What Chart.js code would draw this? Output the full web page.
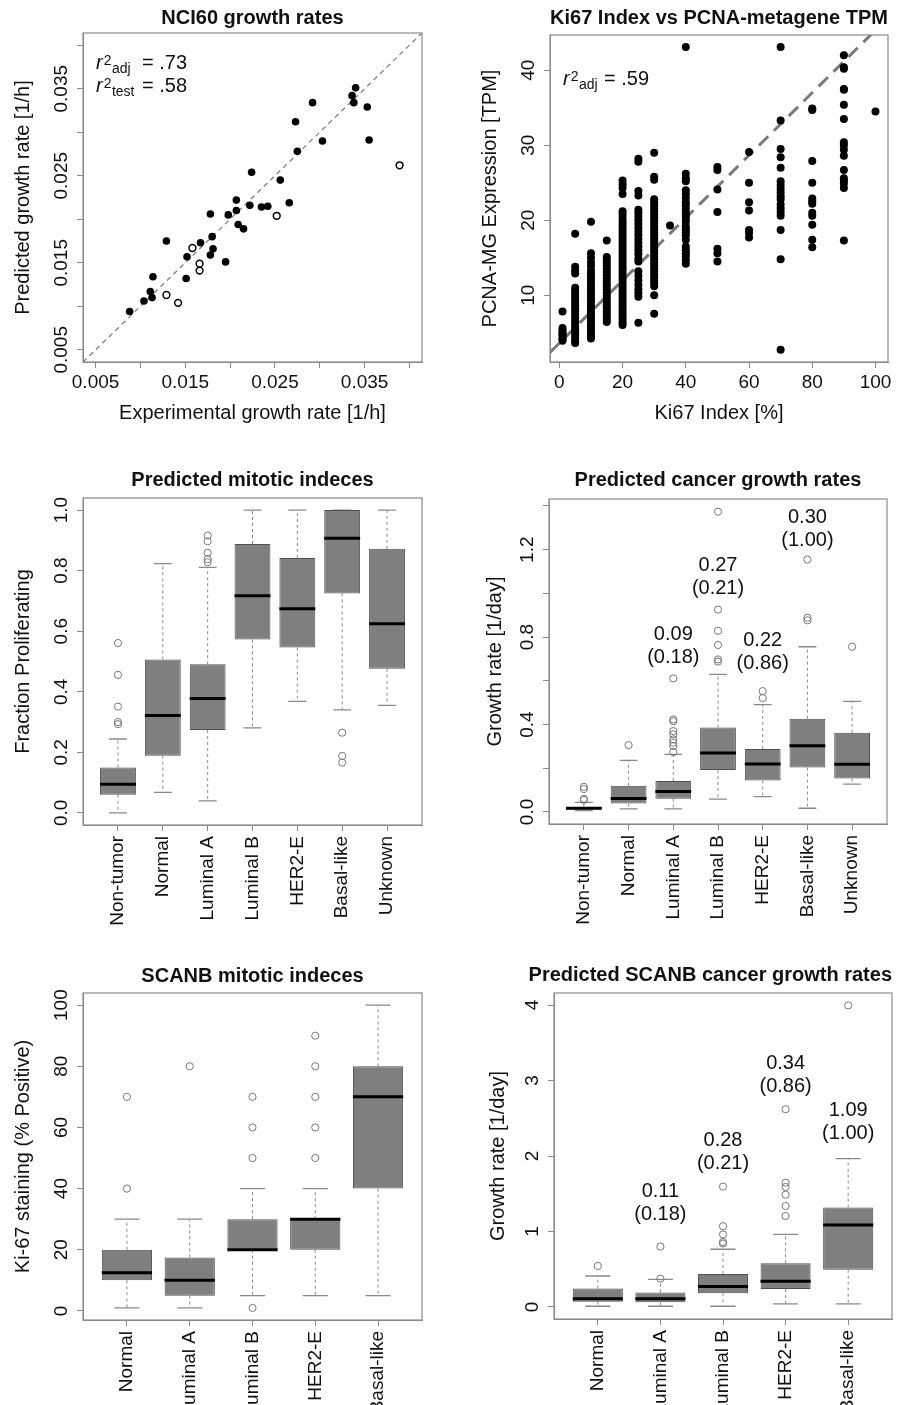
<!DOCTYPE html>
<html><head><meta charset="utf-8">
<script src="https://cdn.jsdelivr.net/npm/chart.js@4.4.1/dist/chart.umd.min.js"></script>
<style>
html,body{margin:0;padding:0;background:#fff;}
body{width:911px;height:1405px;position:relative;overflow:hidden;}
canvas{position:absolute;}
</style></head><body>
<canvas id="c1" width="455" height="460" style="left:0;top:0"></canvas>
<canvas id="c2" width="456" height="460" style="left:455px;top:0"></canvas>
<canvas id="c3" width="455" height="500" style="left:0;top:460px"></canvas>
<canvas id="c4" width="456" height="500" style="left:455px;top:460px"></canvas>
<canvas id="c5" width="455" height="445" style="left:0;top:960px"></canvas>
<canvas id="c6" width="456" height="445" style="left:455px;top:960px"></canvas>
<script>
// ================= DATA =================
// Panel 1: NCI60 growth rates
const nciFilledX = [0.0088,0.0104,0.0111,0.0113,0.0114,0.0129,0.0151,0.0152,0.0167,0.0178,0.0178,0.0180,0.0181,0.0195,0.0198,0.0207,0.0207,0.0209,0.0215,0.0222,0.0224,0.0235,0.0242,0.0256,0.0266,0.0273,0.0275,0.0292,0.0303,0.0336,0.0338,0.0340,0.0353,0.0355];
const nciFilledY = [0.0094,0.0106,0.0117,0.0110,0.0134,0.0175,0.0132,0.0157,0.0173,0.0206,0.0159,0.0180,0.0166,0.0151,0.0205,0.0222,0.0210,0.0194,0.0189,0.0216,0.0254,0.0214,0.0215,0.0245,0.0219,0.0312,0.0278,0.0334,0.0290,0.0342,0.0334,0.0351,0.0329,0.0291];
const nciOpenX = [0.0129,0.0142,0.0158,0.0166,0.0166,0.0252,0.0389];
const nciOpenY = [0.0113,0.0104,0.0167,0.0149,0.0141,0.0204,0.0262];
const nciRange = [0.0036, 0.0414];
const nciTicks = [0.005,0.010,0.015,0.020,0.025,0.030,0.035,0.040];
const nciTickLabels = ['0.005','','0.015','','0.025','','0.035',''];

// Panel 2: Ki67 vs PCNA-metagene TPM
const ki67Levels = [1,5,10,15,20,25,30,35,40,50,60,70,80,90,100];
const pcnaByLevel = [
  [7.8,5.6,5.3,5.0,4.8,4.6,4.3,4.1,3.9],
  [18.2,13.8,13.3,12.9,11.0,10.6,10.2,9.8,9.4,9.0,8.6,8.2,7.8,7.4,7.0,6.6,6.2,5.8,5.4,5.0,4.6,4.2,3.8,3.6],
  [19.8,15.6,15.0,14.4,13.9,13.3,12.9,12.5,12.1,11.7,11.3,10.9,10.5,10.1,9.7,9.3,8.9,8.5,8.1,7.7,7.3,6.9,6.5,6.1,5.7,5.3,4.9,4.5,4.2],
  [17.3,15.1,14.7,14.3,13.9,13.5,13.1,12.7,12.3,11.9,11.5,11.1,10.7,10.3,9.9,9.5,9.1,8.7,8.3,7.9,7.5,7.1,6.7,6.4],
  [25.3,24.8,24.3,23.5,21.2,20.8,20.3,19.9,19.5,19.1,18.7,18.3,17.9,17.5,17.1,16.7,16.3,15.9,15.5,15.1,14.7,14.3,13.9,13.5,13.1,12.7,12.3,11.9,11.5,11.1,10.7,10.3,9.9,9.5,9.1,8.7,8.3,7.9,7.5,7.1,6.7,6.3,6.0],
  [28.2,27.8,23.9,23.3,21.4,21.0,20.5,20.0,19.5,19.0,18.5,18.0,17.5,17.0,16.5,16.0,15.5,14.9,14.5,13.2,12.6,12.0,11.4,10.8,10.3,9.8,6.3],
  [29.0,25.8,25.4,22.8,22.4,22.0,21.6,21.2,20.8,20.4,20.0,19.6,19.2,18.8,18.4,18.0,17.6,17.2,16.8,16.4,16.0,15.6,15.2,14.8,14.4,14.0,13.6,13.2,12.8,12.4,12.0,11.6,11.2,10.0,7.5],
  [19.3],
  [43.1,26.2,25.6,25.2,24.0,23.5,23.0,22.4,22.0,21.5,21.0,20.6,20.2,19.8,19.2,18.8,18.4,18.0,17.4,16.5,16.0,15.6,15.2,14.7,14.2],
  [27.1,26.7,24.1,21.1,16.2,15.6,14.5],
  [29.1,25.0,22.4,21.3,18.7,18.3,17.7],
  [43.1,33.3,29.5,28.4,27.0,25.2,24.7,24.2,23.7,23.2,22.8,22.1,21.6,21.1,20.6,18.7,14.8,2.7],
  [34.9,34.7,27.9,25.0,22.9,22.5,22.2,21.0,20.6,19.4,17.4,16.4],
  [42.0,40.4,40.2,37.5,37.4,35.4,33.5,30.4,30.0,29.4,28.6,26.7,25.6,25.3,24.9,24.3,17.3],
  [34.5]
];
const ki67XRange = [-2.96, 103.96];
const ki67YRange = [1.08, 44.7];
const ki67XTicks = [0,20,40,60,80,100];
const ki67XLabels = ['0','20','40','60','80','100'];
const ki67YTicks = [10,20,30,40];
const ki67YLabels = ['10','20','30','40'];
const ki67FitIntercept = 3.6;
const ki67FitSlope = 0.4175;

// Panel 3: Predicted mitotic indeces
const subtypes7 = ['Non-tumor','Normal','Luminal A','Luminal B','HER2-E','Basal-like','Unknown'];
const mitoLo  = [0.000,0.068,0.040,0.281,0.368,0.340,0.355];
const mitoQ1  = [0.060,0.189,0.274,0.573,0.546,0.725,0.476];
const mitoMed = [0.095,0.322,0.378,0.717,0.674,0.907,0.625];
const mitoQ3  = [0.150,0.507,0.491,0.888,0.842,1.000,0.872];
const mitoHi  = [0.244,0.823,0.811,1.000,1.000,1.000,1.000];
const mitoOut = [[0.293,0.300,0.351,0.456,0.561],[],[0.828,0.838,0.859,0.897,0.916],[],[],[0.265,0.188,0.166],[]];
const mitoRange = [-0.04, 1.04];
const mitoTicks = [0,0.2,0.4,0.6,0.8,1.0];
const mitoTickLabels = ['0.0','0.2','0.4','0.6','0.8','1.0'];

// Panel 4: Predicted cancer growth rates
const growLo  = [0.006,0.014,0.014,0.059,0.070,0.017,0.127];
const growQ1  = [0.011,0.039,0.061,0.192,0.144,0.203,0.153];
const growMed = [0.017,0.062,0.094,0.270,0.220,0.303,0.218];
const growQ3  = [0.023,0.120,0.142,0.386,0.288,0.427,0.362];
const growHi  = [0.044,0.236,0.264,0.630,0.491,0.756,0.506];
const growOut = [[0.055,0.060,0.105,0.115],[0.306],[0.274,0.302,0.317,0.332,0.355,0.370,0.415,0.423,0.611],[0.688,0.698,0.764,0.829,0.926,1.374],[0.521,0.553],[0.877,0.889,1.155],[0.756]];
const growRange = [-0.055, 1.432];
const growTicks = [0,0.2,0.4,0.6,0.8,1.0,1.2,1.4];
const growTickLabels = ['0.0','','0.4','','0.8','','1.2',''];
const growAnnCat = [3,4,5,6];
const growAnnMedian = ['0.09','0.27','0.22','0.30'];
const growAnnP = ['(0.18)','(0.21)','(0.86)','(1.00)'];
const growAnnY = [0.812,1.127,0.786,1.347];

// Panel 5: SCANB mitotic indeces
const subtypes5 = ['Normal','Luminal A','Luminal B','HER2-E','Basal-like'];
const scanLo  = [1,1,5,5,5];
const scanQ1  = [10,5,20,20,40];
const scanMed = [12.5,10,20,30,70];
const scanQ3  = [20,17.5,30,30,80];
const scanHi  = [30,30,40,40,100];
const scanOut = [[40,70],[80],[50,60,70,1],[50,60,70,80,90],[]];
const scanRange = [-2.96, 103.96];
const scanTicks = [0,20,40,60,80,100];
const scanTickLabels = ['0','20','40','60','80','100'];

// Panel 6: Predicted SCANB cancer growth rates
const sgLo  = [0.009,0.009,0.009,0.040,0.040];
const sgQ1  = [0.070,0.062,0.181,0.238,0.494];
const sgMed = [0.110,0.110,0.270,0.340,1.086];
const sgQ3  = [0.243,0.190,0.437,0.578,1.316];
const sgHi  = [0.410,0.366,0.764,0.962,1.965];
const sgOut = [[0.543],[0.375,0.800],[0.840,0.860,0.960,1.070,1.594],[1.205,1.338,1.488,1.590,1.647,2.620],[3.996]];
const sgRange = [-0.16, 4.16];
const sgTicks = [0,1,2,3,4];
const sgTickLabels = ['0','1','2','3','4'];
const sgAnnCat = [2,3,4,5];
const sgAnnMedian = ['0.11','0.28','0.34','1.09'];
const sgAnnP = ['(0.18)','(0.21)','(0.86)','(1.00)'];
const sgAnnY = [1.536,2.199,3.223,2.605];

// ================= STYLE / LAYOUT =================
const FONT = "'Liberation Sans', Arial, Helvetica, sans-serif";
const INK = '#111';
const AXIS = '#8a8a8a';
const TICK_SIZE = 19, LABEL_SIZE = 20;
const BOX_HALF = 0.4, CAP_HALF = 0.2;
Chart.defaults.font.family = FONT;
Chart.defaults.color = INK;

const L1 = {W:455,H:460,plot:[83,422,33,362],titleTop:6.3,yTitlePad:11.3,xTitlePad:35};
const L2 = {W:456,H:460,plot:[95,433,35,362],titleTop:6.3,yTitlePad:23,xTitlePad:35};
const L3 = {W:455,H:500,plot:[83,422,38,365],titleTop:8.7,yTitlePad:11.3};
const L4 = {W:456,H:500,plot:[94,432,39,364],titleTop:8,yTitlePad:28};
const L5 = {W:455,H:445,plot:[83,422,33,360],titleTop:4,yTitlePad:11.3};
const L6 = {W:456,H:445,plot:[99,437,33,359],titleTop:3,yTitlePad:31.3,titleWide:true};

const mctx = document.createElement('canvas').getContext('2d');
function widest(labels, size) {
  mctx.font = 'normal ' + size + 'px ' + FONT;
  return Math.max(0, ...labels.map(s => mctx.measureText(s).width));
}

const framePlugin = {
  id: 'frame',
  afterDraw(chart) {
    const {ctx, chartArea: a} = chart;
    ctx.save();
    ctx.strokeStyle = AXIS; ctx.lineWidth = 1.2;
    ctx.strokeRect(a.left, a.top, a.right - a.left, a.bottom - a.top);
    ctx.restore();
  }
};
const annPlugin = {
  id: 'boxAnn',
  afterDatasetsDraw(chart, args, opts) {
    if (!opts || !opts.cats) return;
    const {ctx, scales: {x, y}} = chart;
    ctx.save();
    ctx.font = 'normal ' + LABEL_SIZE + 'px ' + FONT;
    ctx.fillStyle = INK; ctx.textAlign = 'center'; ctx.textBaseline = 'middle';
    opts.cats.forEach((c, i) => {
      const px = x.getPixelForValue(c), py = y.getPixelForValue(opts.ys[i]);
      ctx.fillText(opts.top[i], px, py);
      ctx.fillText(opts.bottom[i], px, py + opts.gap);
    });
    ctx.restore();
  }
};
const r2Plugin = {
  id: 'r2',
  afterDraw(chart, args, opts) {
    if (!opts || !opts.lines) return;
    const ctx = chart.ctx;
    ctx.save();
    ctx.fillStyle = INK; ctx.textAlign = 'left'; ctx.textBaseline = 'alphabetic';
    opts.lines.forEach(l => {
      ctx.font = 'italic 20px ' + FONT;
      ctx.fillText('r', l.x, l.y);
      let cx = l.x + ctx.measureText('r').width + 1;
      ctx.font = 'normal 14px ' + FONT;
      ctx.fillText('2', cx, l.y - 4.5);
      cx += ctx.measureText('2').width + 0.5;
      ctx.fillText(l.sub, cx, l.y + 4);
      ctx.font = 'normal 20px ' + FONT;
      ctx.fillText(l.eq, l.eqX, l.y);
    });
    ctx.restore();
  }
};

function gridOpts() {
  return {drawOnChartArea:false, drawTicks:true, tickLength:6, color:AXIS, lineWidth:1, offset:false};
}
function yAxis(L, range, ticks, labels, titleText) {
  const w = widest(labels, TICK_SIZE);
  return {
    type:'linear', position:'left', min:range[0], max:range[1], bounds:'data',
    afterBuildTicks: s => { s.ticks = ticks.map(v => ({value:v})); },
    afterFit: s => { s.width = L.plot[0]; },
    ticks: {autoSkip:false, minRotation:90, maxRotation:90, crossAlign:'center', padding: 21.5 - 6 - w/2,
            color:INK, font:{size:TICK_SIZE}, callback:(v, i) => labels[i]},
    grid: gridOpts(),
    border: {display:true, color:AXIS, width:1},
    title: {display:true, text:titleText, color:INK, font:{size:LABEL_SIZE}, padding:{top:L.yTitlePad, bottom:0}}
  };
}
function xAxisNum(L, range, ticks, labels, titleText) {
  return {
    type:'linear', position:'bottom', min:range[0], max:range[1], bounds:'data', offset:false,
    afterBuildTicks: s => { s.ticks = ticks.map(v => ({value:v})); },
    afterFit: s => { s.height = L.H - L.plot[3]; },
    ticks: {autoSkip:false, minRotation:0, maxRotation:0, padding:3.3, color:INK, font:{size:TICK_SIZE}, callback:(v, i) => labels[i]},
    grid: gridOpts(),
    border: {display:true, color:AXIS, width:1},
    title: {display:true, text:titleText, color:INK, font:{size:LABEL_SIZE}, padding:{top:0, bottom:L.xTitlePad}}
  };
}
function xAxisCat(L, cats) {
  const ext = 0.04 * cats.length;
  return {
    type:'linear', position:'bottom', min:0.5 - ext, max:cats.length + 0.5 + ext, bounds:'data', offset:false,
    afterBuildTicks: s => { s.ticks = cats.map((c, i) => ({value:i + 1})); },
    afterFit: s => { s.height = L.H - L.plot[3]; },
    ticks: {autoSkip:false, minRotation:90, maxRotation:90, padding:5, color:INK, font:{size:TICK_SIZE}, callback:(v, i) => cats[i]},
    grid: gridOpts(),
    border: {display:true, color:AXIS, width:1}
  };
}
function titleOpts(L, text) {
  return {display:true, text, fullSize:!!L.titleWide, align:L.titleWide ? 'end' : 'center', color:INK,
          font:{size:20, weight:'bold', lineHeight:1.2},
          padding:{top:L.titleTop, bottom:L.plot[2] - L.titleTop - 24}};
}
function baseOptions(L) {
  return {
    responsive:false, animation:false, devicePixelRatio:1,
    layout:{padding:{left:0, top:0, bottom:0, right:L.W - L.plot[1]}},
    plugins:{legend:{display:false}, tooltip:{enabled:false}}
  };
}

function boxDatasets(lo, q1, med, q3, hi, outl) {
  const boxes = [], medians = [], whisk = [], caps = [], outs = [];
  med.forEach((m, i) => {
    const c = i + 1;
    boxes.push({x:c, y:[q1[i], q3[i]]});
    medians.push({x:c - BOX_HALF, y:m}, {x:c + BOX_HALF, y:m}, {x:c + BOX_HALF, y:null});
    whisk.push({x:c, y:q3[i]}, {x:c, y:hi[i]}, {x:c, y:null}, {x:c, y:q1[i]}, {x:c, y:lo[i]}, {x:c, y:null});
    caps.push({x:c - CAP_HALF, y:hi[i]}, {x:c + CAP_HALF, y:hi[i]}, {x:c, y:null},
              {x:c - CAP_HALF, y:lo[i]}, {x:c + CAP_HALF, y:lo[i]}, {x:c, y:null});
    outl[i].forEach(v => outs.push({x:c, y:v}));
  });
  return [
    {type:'line', data:medians, borderColor:'#000', borderWidth:3, pointRadius:0, spanGaps:false, order:0},
    {type:'line', data:outs, showLine:false, pointRadius:3.6, pointBorderWidth:1, pointBorderColor:'#777',
     pointBackgroundColor:'rgba(0,0,0,0)', order:1},
    {type:'bar', data:boxes, backgroundColor:'#7f7f7f', borderColor:'#505050', borderWidth:1, borderSkipped:false,
     barPercentage:0.8, categoryPercentage:1, order:2},
    {type:'line', data:whisk, borderColor:'#8a8a8a', borderWidth:1, borderDash:[3,3], pointRadius:0, spanGaps:false, order:3},
    {type:'line', data:caps, borderColor:'#8a8a8a', borderWidth:1.3, pointRadius:0, spanGaps:false, order:3}
  ];
}

function boxChart(id, L, cats, st, range, ticks, labels, title, yTitle, ann) {
  const opts = baseOptions(L);
  opts.plugins.title = titleOpts(L, title);
  if (ann) opts.plugins.boxAnn = ann;
  opts.scales = {x: xAxisCat(L, cats), y: yAxis(L, range, ticks, labels, yTitle)};
  return new Chart(document.getElementById(id), {
    type:'bar',
    data:{datasets: boxDatasets(st[0], st[1], st[2], st[3], st[4], st[5])},
    options: opts,
    plugins:[framePlugin, annPlugin]
  });
}

// ---------- Panel 1 ----------
(function () {
  const opts = baseOptions(L1);
  opts.plugins.title = titleOpts(L1, 'NCI60 growth rates');
  opts.plugins.r2 = {lines:[{x:96, y:69.3, sub:'adj', eq:'= .73', eqX:142}, {x:96, y:92, sub:'test', eq:'= .58', eqX:142}]};
  opts.scales = {
    x: xAxisNum(L1, nciRange, nciTicks, nciTickLabels, 'Experimental growth rate [1/h]'),
    y: yAxis(L1, nciRange, nciTicks, nciTickLabels, 'Predicted growth rate [1/h]')
  };
  new Chart(document.getElementById('c1'), {
    type:'scatter',
    data:{datasets:[
      {data: nciFilledX.map((x, i) => ({x, y:nciFilledY[i]})), pointRadius:3.8, pointBackgroundColor:'#000',
       pointBorderColor:'#000', pointBorderWidth:0, order:0},
      {data: nciOpenX.map((x, i) => ({x, y:nciOpenY[i]})), pointRadius:3.4, pointBackgroundColor:'#fff',
       pointBorderColor:'#000', pointBorderWidth:1.5, order:0},
      {type:'line', data:[{x:nciRange[0], y:nciRange[0]}, {x:nciRange[1], y:nciRange[1]}], borderColor:'#808080',
       borderWidth:1.3, borderDash:[5,4], pointRadius:0, order:1}
    ]},
    options: opts,
    plugins:[framePlugin, r2Plugin]
  });
})();

// ---------- Panel 2 ----------
(function () {
  const opts = baseOptions(L2);
  opts.plugins.title = titleOpts(L2, 'Ki67 Index vs PCNA-metagene TPM');
  opts.plugins.r2 = {lines:[{x:108, y:85, sub:'adj', eq:'= .59', eqX:149}]};
  opts.scales = {
    x: xAxisNum(L2, ki67XRange, ki67XTicks, ki67XLabels, 'Ki67 Index [%]'),
    y: yAxis(L2, ki67YRange, ki67YTicks, ki67YLabels, 'PCNA-MG Expression [TPM]')
  };
  const pts = [];
  ki67Levels.forEach((k, i) => pcnaByLevel[i].forEach(v => pts.push({x:k, y:v})));
  new Chart(document.getElementById('c2'), {
    type:'scatter',
    data:{datasets:[
      {data: pts, pointRadius:4, pointBackgroundColor:'#000', pointBorderColor:'#000', pointBorderWidth:0, order:0},
      {type:'line', data: ki67XRange.map(x => ({x, y: ki67FitIntercept + ki67FitSlope * x})), borderColor:'#7a7a7a',
       borderWidth:3, borderDash:[13,8], pointRadius:0, order:1}
    ]},
    options: opts,
    plugins:[framePlugin, r2Plugin]
  });
})();

// ---------- Panels 3-6 ----------
boxChart('c3', L3, subtypes7, [mitoLo, mitoQ1, mitoMed, mitoQ3, mitoHi, mitoOut], mitoRange, mitoTicks, mitoTickLabels,
  'Predicted mitotic indeces', 'Fraction Proliferating', null);
boxChart('c4', L4, subtypes7, [growLo, growQ1, growMed, growQ3, growHi, growOut], growRange, growTicks, growTickLabels,
  'Predicted cancer growth rates', 'Growth rate [1/day]',
  {cats:growAnnCat, ys:growAnnY, top:growAnnMedian, bottom:growAnnP, gap:23});
boxChart('c5', L5, subtypes5, [scanLo, scanQ1, scanMed, scanQ3, scanHi, scanOut], scanRange, scanTicks, scanTickLabels,
  'SCANB mitotic indeces', 'Ki-67 staining (% Positive)', null);
boxChart('c6', L6, subtypes5, [sgLo, sgQ1, sgMed, sgQ3, sgHi, sgOut], sgRange, sgTicks, sgTickLabels,
  'Predicted SCANB cancer growth rates', 'Growth rate [1/day]',
  {cats:sgAnnCat, ys:sgAnnY, top:sgAnnMedian, bottom:sgAnnP, gap:23});
</script>
</body></html>
